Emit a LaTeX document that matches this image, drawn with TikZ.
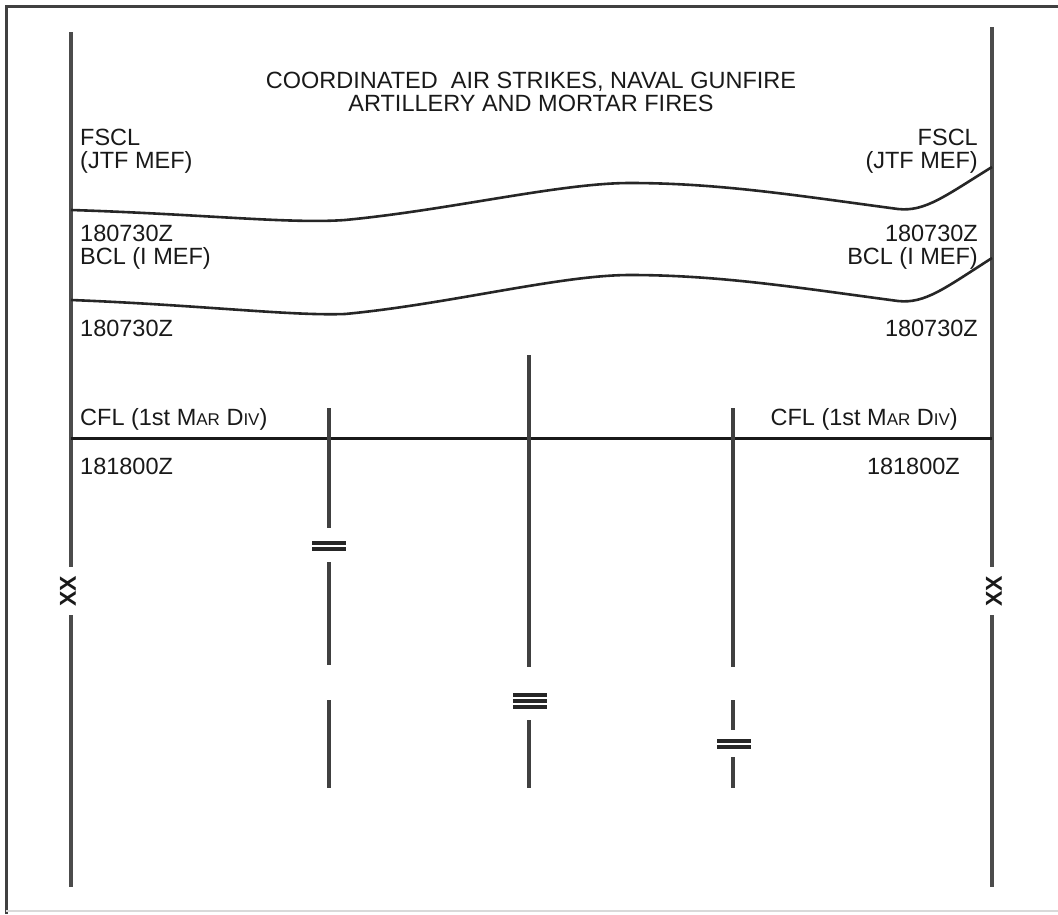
\documentclass[tikz,border=0pt]{standalone}
\usepackage{fontspec}
\setmainfont{Liberation Sans}
\newcommand{\smc}[1]{{\fontsize{17}{17}\selectfont #1}}
\begin{document}
\begin{tikzpicture}[x=1pt,y=-1pt,
  lbl/.style={inner sep=0pt, text=black!90, font=\fontsize{23.5}{24}\selectfont},
  lw/.style={lbl, anchor=base west},
  le/.style={lbl, anchor=base east},
  ttl/.style={lbl, anchor=base},
  xx/.style={inner sep=0pt, text=black!90, font=\fontsize{23}{24}\selectfont\bfseries, rotate=90},
  frame/.style={draw=black!75, line width=3pt},
  side/.style={draw=black!70, line width=3.6pt},
  fline/.style={draw=black!85, line width=2.6pt},
  cfl/.style={draw=black!90, line width=3pt},
  bnd/.style={draw=black!75, line width=3.2pt},
  bar/.style={draw=black!85, line width=3.4pt}]
\useasboundingbox (0,0) rectangle (1058,914);
% frame
\draw[frame] (6,914) -- (6,6) -- (1058,6);
\draw[draw=black!15, line width=1.5pt] (6,911) -- (1058,911);
% side boundaries
\coordinate (LT) at (71,32);  \coordinate (LA) at (71,567);
\coordinate (LB) at (71,615); \coordinate (LE) at (71,887);
\coordinate (RT) at (992,27); \coordinate (RA) at (992,567);
\coordinate (RB) at (992,615);\coordinate (RE) at (992,887);
\draw[side] (LT) -- (LA) (LB) -- (LE);
\draw[side] (RT) -- (RA) (RB) -- (RE);
\node[xx] (xxl) at (68,591) {XX};
\node[xx] (xxr) at (994,591) {XX};
% title
\node[ttl] (t1) at (531,88) {COORDINATED\ \ AIR STRIKES, NAVAL GUNFIRE};
\node[ttl] (t2) at (531,111) {ARTILLERY AND MORTAR FIRES};
% left labels
\node[lw] (fs1) at (80,145) {FSCL};
\node[lw] (fs2) at (80,168) {(JTF MEF)};
\node[lw] (d1)  at (80,241) {180730Z};
\node[lw] (bc1) at (80,264) {BCL (I MEF)};
\node[lw] (d2)  at (80,336) {180730Z};
\node[lw] (cf1) at (80,425) {CFL (1st M\smc{AR} D\smc{IV})};
\node[lw] (d3)  at (80,474) {181800Z};
% right labels
\node[le] (fs3) at (978,145) {FSCL};
\node[le] (fs4) at (978,168) {(JTF MEF)};
\node[le] (d4)  at (978,241) {180730Z};
\node[le] (bc2) at (978,264) {BCL (I MEF)};
\node[le] (d5)  at (978,336) {180730Z};
\node[le] (cf2) at (958,425) {CFL (1st M\smc{AR} D\smc{IV})};
\node[le] (d6)  at (960,474) {181800Z};
% FSCL curve
\draw[fline] (71,210) .. controls (200,214) and (290,224) .. (345,220)
  .. controls (450,210) and (560,183) .. (630,183)
  .. controls (720,183) and (800,196) .. (898,209)
  .. controls (925,212) and (945,196) .. (992,167);
% BCL curve
\draw[fline] (71,300) .. controls (200,305) and (290,316) .. (345,314)
  .. controls (450,304) and (560,275) .. (630,275)
  .. controls (720,275) and (800,288) .. (898,301)
  .. controls (925,304) and (945,288) .. (992,258);
% CFL line
\coordinate (CL) at (71,438); \coordinate (CR) at (992,438);
\draw[cfl] (CL) -- (CR);
% boundary 1 (=)
\draw[bnd] (329,408) -- (329,528) (329,562) -- (329,665) (329,700) -- (329,788);
\draw[bar] (312,543) -- (346,543) (312,549) -- (346,549);
% boundary 2 (triple)
\draw[bnd] (529,355) -- (529,667) (529,720) -- (529,788);
\draw[bar] (513,695) -- (547,695) (513,701) -- (547,701) (513,707) -- (547,707);
% boundary 3 (=)
\draw[bnd] (733,408) -- (733,667) (733,700) -- (733,730) (733,757) -- (733,788);
\draw[bar] (717,741) -- (751,741) (717,747) -- (751,747);
\end{tikzpicture}
\end{document}
